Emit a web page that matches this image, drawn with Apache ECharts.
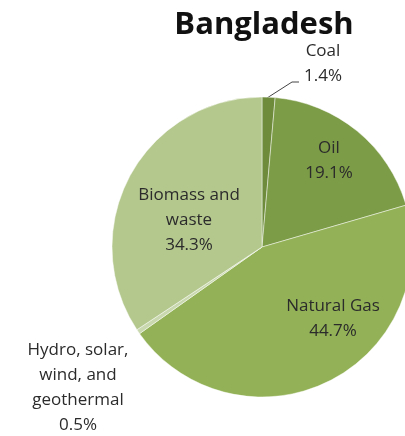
<!DOCTYPE html>
<html>
<head>
<meta charset="utf-8">
<script src="https://cdn.jsdelivr.net/npm/echarts@6/dist/echarts.min.js"></script>
<style>
html, body { margin: 0; padding: 0; background: #fff; }
#main { width: 405px; height: 436px; }
</style>
</head>
<body>
<div id="main"></div>
<script>
var categories = ['Coal', 'Oil', 'Natural Gas', 'Hydro, solar,\nwind, and\ngeothermal', 'Biomass and\nwaste'];
var values = [1.4, 19.1, 44.7, 0.5, 34.3];
var colors = ['#6d8b3b', '#7d9c48', '#93b257', '#c9d8ae', '#b4c88e'];

// where each label sits (Excel put them by hand)
var labelPos = [[323, 64], [329, 161], [333, 319], [78, 388], [189, 220]];

var chart = echarts.init(document.getElementById('main'));
window.addEventListener('resize', function () {
    chart.resize();
});

var option = {
    animation: false,
    title: {
        text: 'Bangladesh',
        left: 259,
        top: 5,
        textAlign: 'center',
        textStyle: {
            fontFamily: 'Open Sans',
            fontWeight: 'bold',
            fontSize: 31,
            color: '#111'
        }
    },
    series: [
        {
            type: 'pie',
            center: [262, 247],
            radius: [0, 150],
            startAngle: 90,
            clockwise: true,
            avoidLabelOverlap: false,
            itemStyle: {
                borderColor: 'rgba(255,255,255,0.45)',
                borderWidth: 1
            },
            label: {
                show: true,
                position: 'outside',
                formatter: '{b}\n{c}%',
                fontFamily: 'Open Sans',
                fontSize: 17,
                lineHeight: 25,
                color: '#2b2b2b',
                align: 'center'
            },
            labelLine: {
                show: false
            },
            labelLayout: function (p) {
                var pos = labelPos[p.dataIndex];
                var res = {
                    x: pos[0],
                    y: pos[1],
                    align: 'center',
                    verticalAlign: 'middle',
                    hideOverlap: false
                };
                if (p.dataIndex === 0) {
                    res.labelLinePoints = [[267, 98], [292, 82], [299, 82]];
                }
                return res;
            },
            data: categories.map(function (c, i) {
                var d = {
                    name: c,
                    value: values[i],
                    itemStyle: { color: colors[i] }
                };
                if (i === 0) {
                    d.labelLine = { show: true, length: 10, length2: 6, lineStyle: { color: '#444', width: 1 } };
                }
                return d;
            })
        }
    ]
};

chart.setOption(option);
</script>
</body>
</html>
